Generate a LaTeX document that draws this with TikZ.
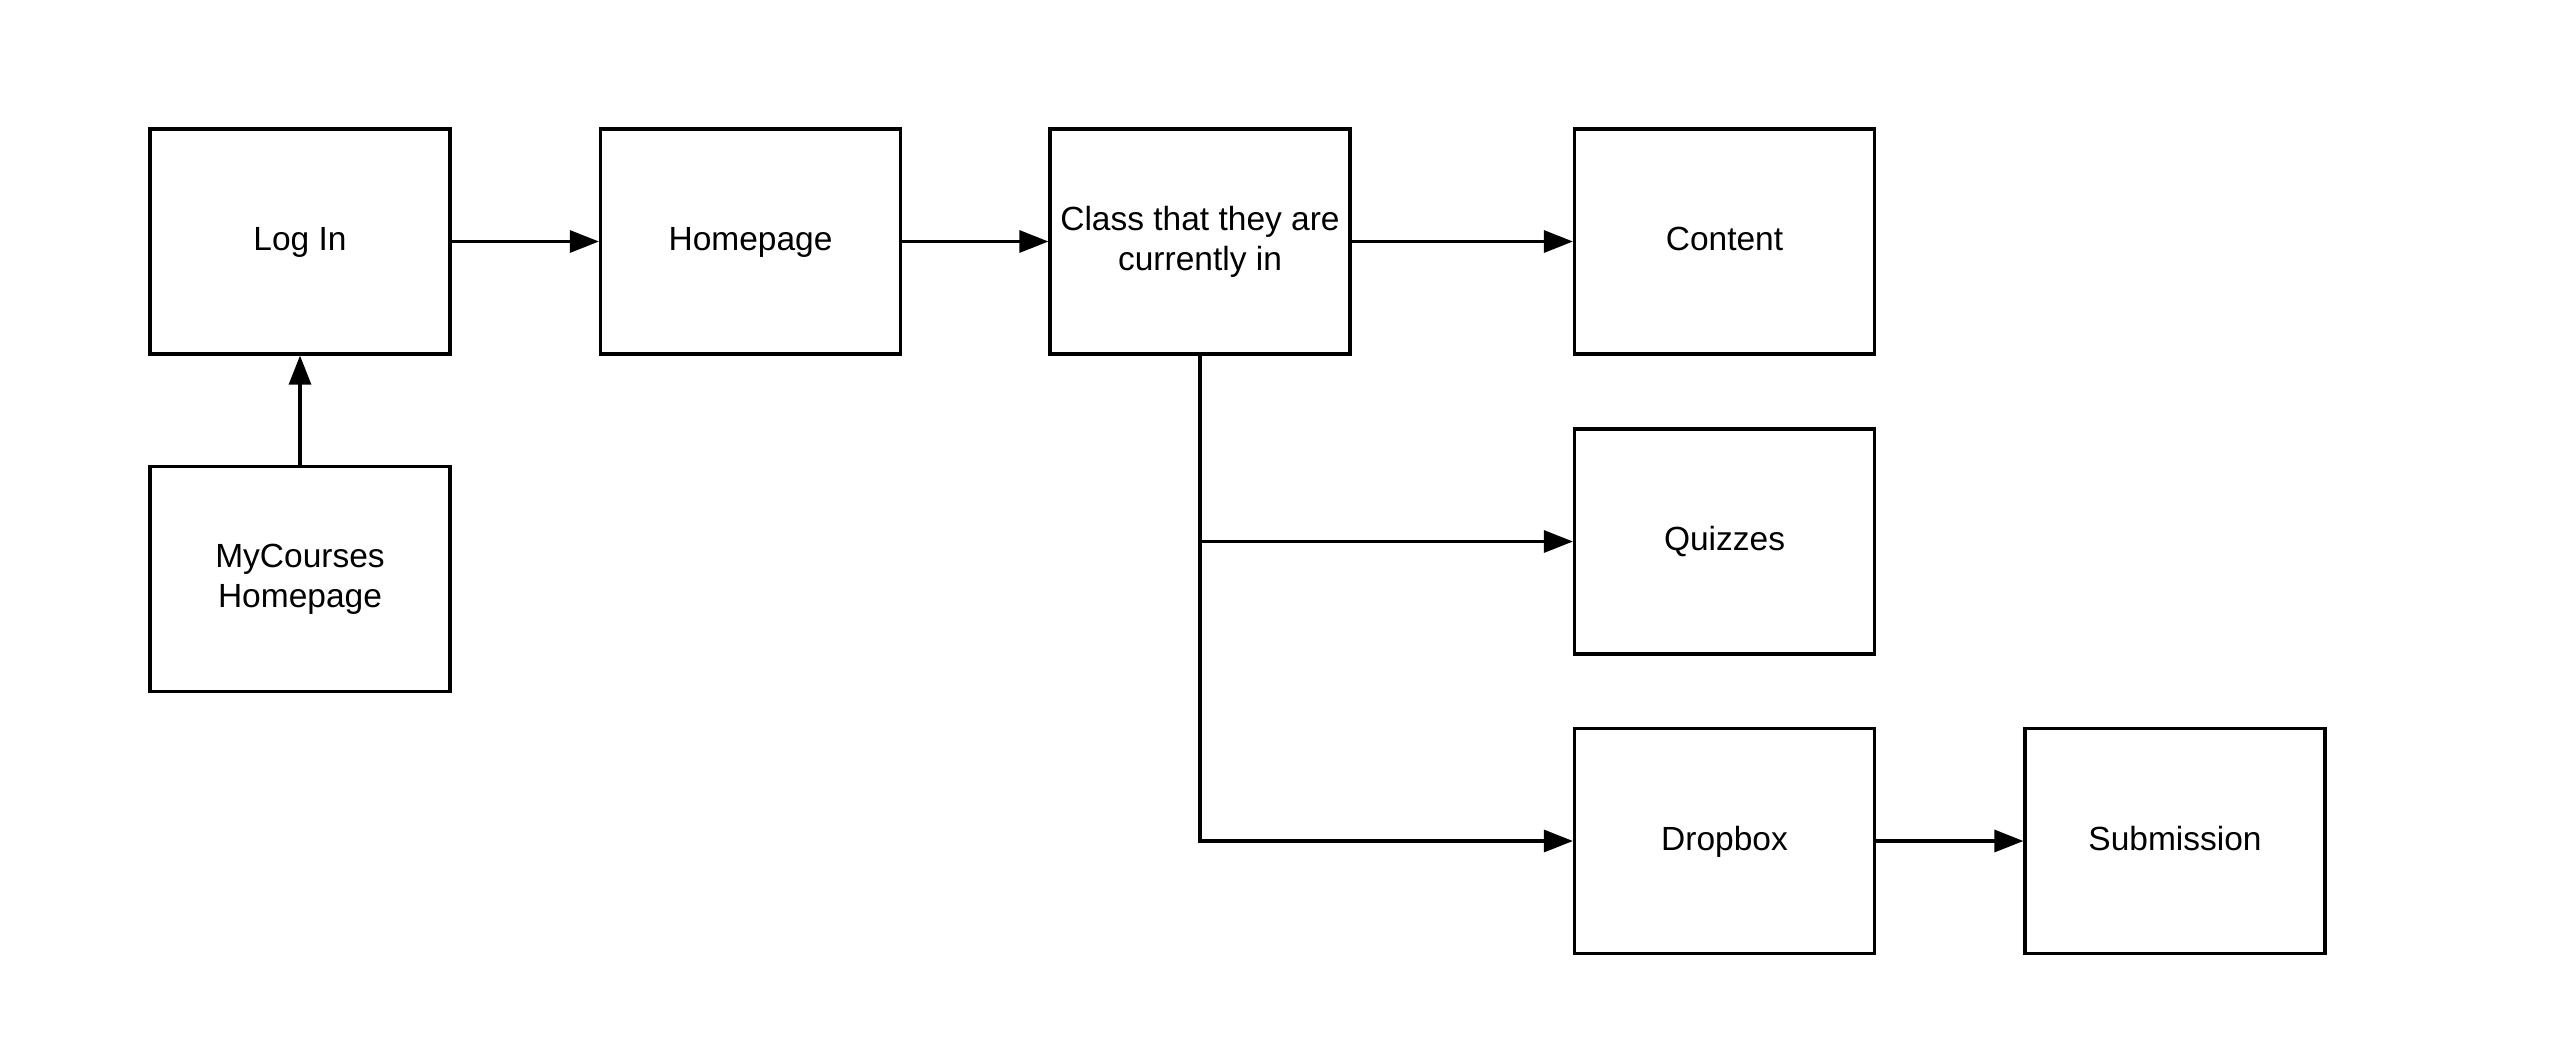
\documentclass[tikz,border=0pt]{standalone}
\usepackage{fontspec}
\setmainfont{Liberation Sans}
\usetikzlibrary{arrows.meta}
\begin{document}
\begin{tikzpicture}[x=1pt,y=-1pt,
  box/.style={draw, line width=3.2pt, minimum width=300pt, minimum height=225pt,
    inner sep=0pt, align=center, font=\fontsize{33.5}{40.5}\selectfont,
    text depth=0.6em},
  conn/.style={draw, line width=3.2pt, -{Triangle[length=29pt,width=22pt]}}]
\useasboundingbox (0,0) rectangle (2550,1053);
\node[box] (login) at (300,241.5) {Log In};
\node[box] (home) at (750.5,241.5) {Homepage};
\node[box] (class) at (1200,241.5) {Class that they are\\currently in};
\node[box] (content) at (1724.5,241.5) {Content};
\node[box] (mycourses) at (300,579) {MyCourses\\Homepage};
\node[box] (quizzes) at (1724.5,541.5) {Quizzes};
\node[box] (dropbox) at (1724.5,841) {Dropbox};
\node[box] (submission) at (2175,841) {Submission};
\draw[conn] (login) -- (home);
\draw[conn] (home) -- (class);
\draw[conn] (class) -- (content);
\draw[conn] (mycourses) -- (login);
\draw[conn] (dropbox) -- (submission);
\draw[conn] (class.south) |- (quizzes.west);
\draw[conn] (class.south) |- (dropbox.west);
\end{tikzpicture}
\end{document}
